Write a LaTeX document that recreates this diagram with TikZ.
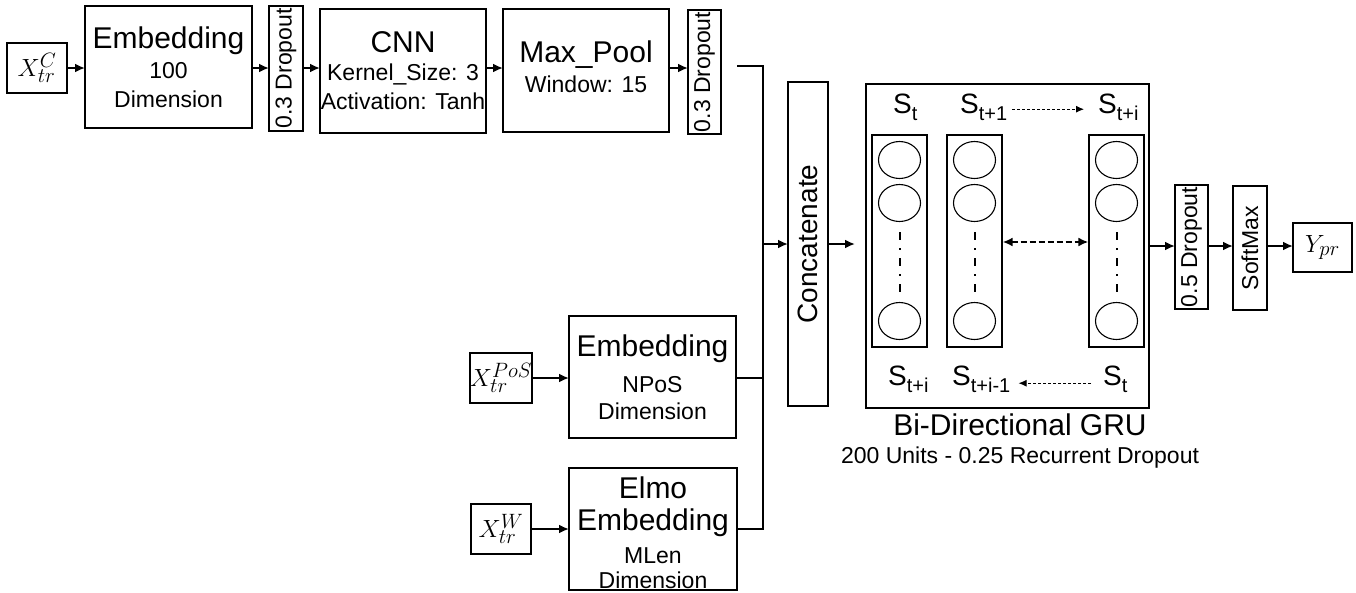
\documentclass[tikz,border=0pt]{standalone}
\usepackage{fontspec}
\setmainfont{Liberation Sans}
\usetikzlibrary{arrows.meta,shapes.geometric}
\newcommand{\Sl}[1]{S\raisebox{-0.28em}{\fontsize{20}{20}\selectfont #1}}
\newcommand{\bigt}[1]{{\fontsize{30}{30}\selectfont #1}}
\begin{document}
\begin{tikzpicture}[x=1pt,y=-1pt,
  box/.style={draw,line width=1.4pt,inner sep=0pt,outer sep=0pt,align=center},
  mid/.style={font=\fontsize{23}{27}\selectfont},
  arr/.style={line width=2pt,-{Latex[length=10pt,width=9pt]}},
  conn/.style={line width=2pt},
  dasharr/.style={line width=0.9pt,dash pattern=on 3pt off 2pt,-{Latex[length=8pt,width=7pt]}},
  cell/.style={draw,line width=1.1pt,ellipse,minimum width=42pt,minimum height=37pt,inner sep=0pt},
  col/.style={draw,line width=1.2pt,minimum width=55pt,minimum height=212pt,inner sep=0pt},
  dots/.style={line width=2pt,dash pattern=on 8pt off 8pt on 2pt off 8pt},
  slab/.style={font=\fontsize{28}{28}\selectfont,anchor=base west,inner sep=2pt},
  mathlab/.style={font=\fontsize{28}{28}\selectfont}
]
\useasboundingbox (0,0) rectangle (1356,592);

% top row
\node[box,mathlab,minimum width=60pt,minimum height=50pt] (xc) at (37,68) {$X_{tr}^{C}$};
\node[box,mid,minimum width=167pt,minimum height=122pt] (emb1) at (168.5,67)
  {\bigt{Embedding}\\[3pt]100\\[2pt]Dimension};
\node[box,minimum width=34pt,minimum height=125pt,font=\fontsize{23}{23}\selectfont] (d1) at (286,68.5) {\rotatebox{90}{0.3 Dropout}};
\node[box,mid,minimum width=166pt,minimum height=124pt] (cnn) at (403,71)
  {\bigt{CNN}\\[1pt]Kernel\_Size: 3\\[2pt]Activation: Tanh};
\node[box,minimum width=166pt,minimum height=123pt] (mp) at (586,70.5) {};
\node[mid,align=center,inner sep=0pt] (mpt) at (586,67)
  {\bigt{Max\_Pool}\\[3pt]Window: 15};
\node[box,minimum width=33pt,minimum height=124pt,font=\fontsize{23}{23}\selectfont] (d2) at (704.5,72) {\rotatebox{90}{0.3 Dropout}};

% lower inputs
\node[box,mathlab,minimum width=60pt,minimum height=50pt] (xpos) at (501,378) {$X_{tr}^{PoS}$};
\node[box,mid,minimum width=167pt,minimum height=122pt] (npos) at (652.5,377)
  {\bigt{Embedding}\\[9pt]NPoS\\Dimension};
\node[box,mathlab,minimum width=60pt,minimum height=50pt] (xw) at (501,529) {$X_{tr}^{W}$};
\node[box,minimum width=168pt,minimum height=122pt] (elmo) at (653,529) {};
\node[mid,align=center,inner sep=0pt] (elmot) at (653,533)
  {\bigt{Elmo}\\[5pt]\bigt{Embedding}\\[6pt]MLen\\[-2pt]Dimension};

% concatenate
\node[box,minimum width=40pt,minimum height=324pt,font=\fontsize{28}{28}\selectfont] (cat) at (808,244) {\rotatebox{90}{Concatenate}};

% GRU
\node[box,minimum width=283pt,minimum height=324pt] (gru) at (1007.5,246) {};
\node[col] (c1) at (899.5,241) {};
\node[col] (c2) at (974.5,241) {};
\node[col] (c3) at (1116.5,241) {};
\foreach \c/\x in {1/899.5,2/974.5,3/1116.5}{
  \node[cell] (a\c) at (\x,160) {};
  \node[cell] (b\c) at (\x,203) {};
  \node[cell] (z\c) at (\x,321) {};
  \draw[dots] (\x,232) -- (\x,294);
}
\node[slab] (s1) at (891,113) {\Sl{t}};
\node[slab] (s2) at (958,113) {\Sl{t+1}};
\node[slab] (s3) at (1096,113) {\Sl{t+i}};
\node[slab] (r1) at (886,385) {\Sl{t+i}};
\node[slab] (r2) at (950,385) {\Sl{t+i-1}};
\node[slab] (r3) at (1101,385) {\Sl{t}};
\draw[dasharr,shorten <=3pt,shorten >=12pt] ([yshift=-2pt]s2.east) -- ([yshift=-2pt]s3.west);
\draw[dasharr,shorten <=10pt,shorten >=6pt] ([yshift=-4pt]r3.west) -- ([yshift=-4pt]r2.east);
\draw[line width=2pt,dash pattern=on 6pt off 3pt,{Latex[length=10pt,width=9pt]}-{Latex[length=10pt,width=9pt]}] (c2.east |- 0,242) -- (c3.west |- 0,242);
\node[font=\fontsize{30}{30}\selectfont,inner sep=0pt] (grut) at (1020,425) {Bi-Directional GRU};
\node[font=\fontsize{23}{23}\selectfont,inner sep=0pt] (grus) at (1020,458) {200 Units - 0.25 Recurrent Dropout};

% output
\node[box,minimum width=33pt,minimum height=124pt,font=\fontsize{23}{23}\selectfont] (d3) at (1191.5,247) {\rotatebox{90}{0.5 Dropout}};
\node[box,minimum width=34pt,minimum height=124pt,font=\fontsize{23}{23}\selectfont] (sm) at (1250,248) {\rotatebox{90}{SoftMax}};
\node[box,mathlab,minimum width=59pt,minimum height=49pt] (ypr) at (1322.5,247.5) {$Y_{pr}$};

% connectors
\draw[arr] (xc.east) -- (emb1.west |- xc.east);
\draw[arr] (emb1.east |- xc.east) -- (d1.west |- xc.east);
\draw[arr] (d1.east |- xc.east) -- (cnn.west |- xc.east);
\draw[arr] (cnn.east |- xc.east) -- (mp.west |- xc.east);
\draw[arr] (mp.east |- xc.east) -- (d2.west |- xc.east);
\coordinate (d2out) at (737,66);
\coordinate (busb) at (763,529);
\draw[conn] (d2out) -| (busb) -- (elmo.east);
\draw[conn] (npos.east |- xpos.east) -- (busb |- xpos.east);
\draw[arr] (busb |- cat.west) -- (cat.west);
\draw[arr] (xpos.east) -- (npos.west |- xpos.east);
\draw[arr] (xw.east) -- (elmo.west |- xw.east);
\draw[arr] (cat.east) -- ++(27,0);
\draw[arr] (gru.east) -- (d3.west |- gru.east);
\draw[arr] (d3.east |- gru.east) -- (sm.west |- gru.east);
\draw[arr] (sm.east |- gru.east) -- (ypr.west |- gru.east);
\end{tikzpicture}
\end{document}
